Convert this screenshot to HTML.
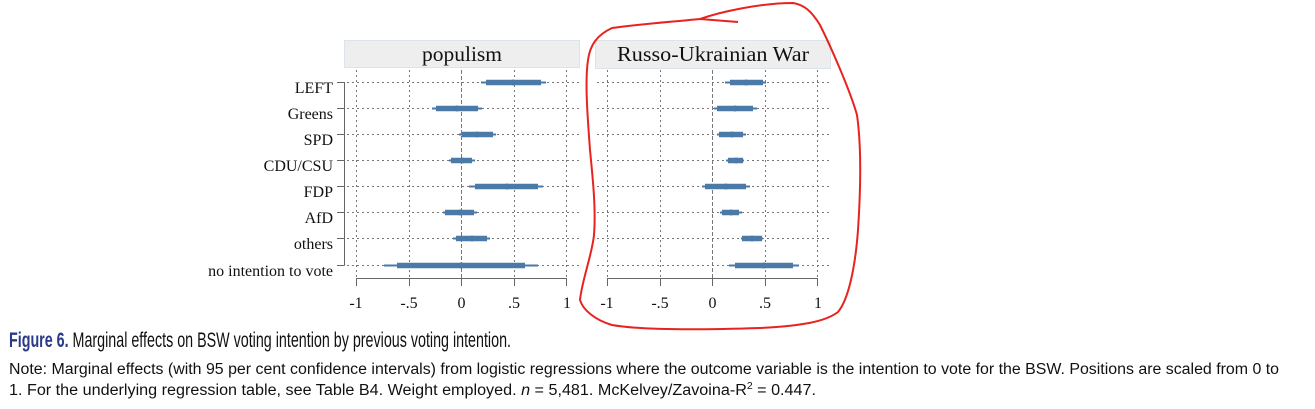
<!DOCTYPE html>
<html><head><meta charset="utf-8"><style>
html,body{margin:0;padding:0;background:#fff;width:1315px;height:409px;overflow:hidden}
svg{display:block}
.s{font-family:"Liberation Serif",serif;fill:#111}
.c{font-family:"Liberation Sans Narrow","Liberation Sans",sans-serif;fill:#111}
</style></head><body>
<svg width="1315" height="409" viewBox="0 0 1315 409" xmlns="http://www.w3.org/2000/svg">
<!-- headers -->
<rect x="344.5" y="40.5" width="235" height="27" fill="#eeeeee" stroke="#dde3ea"/>
<text class="s" x="462" y="61" font-size="21.5" text-anchor="middle">populism</text>
<rect x="595.5" y="40.5" width="235" height="28" fill="#eeeeee" stroke="#dde3ea"/>
<text class="s" x="713" y="61" font-size="21.5" text-anchor="middle" textLength="192" lengthAdjust="spacingAndGlyphs">Russo-Ukrainian War</text>

<!-- y labels -->
<g class="s" font-size="16" text-anchor="end">
<text x="333" y="93">LEFT</text>
<text x="333" y="119">Greens</text>
<text x="333" y="145">SPD</text>
<text x="333" y="171">CDU/CSU</text>
<text x="333" y="197">FDP</text>
<text x="333" y="223">AfD</text>
<text x="333" y="249">others</text>
<text x="333" y="276">no intention to vote</text>
</g>
<g stroke="#666" stroke-width="1" fill="none">
<path d="M344.5 82 V265.5"/>
<path d="M337 82.5H344.5M337 108.5H344.5M337 134.5H344.5M337 160.5H344.5M337 186.5H344.5M337 212.5H344.5M337 238.5H344.5M337 265.5H344.5"/>
</g>

<!-- grids -->
<g stroke="#777" stroke-width="1" stroke-dasharray="2,3" fill="none">
<path d="M356.5 70V278M409.5 70V278M514.5 70V278M566.5 70V278"/>
<path d="M607.5 70V278M660.5 70V278M765.5 70V278M817.5 70V278"/>
<path d="M347 82.5H580M347 108.5H580M347 134.5H580M347 160.5H580M347 186.5H580M347 212.5H580M347 238.5H580M347 265.5H580"/>
<path d="M597 82.5H831M597 108.5H831M597 134.5H831M597 160.5H831M597 186.5H831M597 212.5H831M597 238.5H831M597 265.5H831"/>
</g>
<g stroke="#777" stroke-width="1" stroke-dasharray="4,2" fill="none">
<path d="M461.5 70V278M712.5 70V278"/>
</g>
<!-- x axes -->
<g stroke="#666" stroke-width="1" fill="none">
<path d="M356 278.5H567M356.5 278V286M409.5 278V286M461.5 278V286M514.5 278V286M566.5 278V286"/>
<path d="M607 278.5H818M607.5 278V286M660.5 278V286M712.5 278V286M765.5 278V286M817.5 278V286"/>
</g>
<g class="s" font-size="16" text-anchor="middle">
<text x="356" y="308">-1</text><text x="409" y="308">-.5</text><text x="461.5" y="308">0</text><text x="514" y="308">.5</text><text x="567" y="308">1</text>
<text x="607" y="308">-1</text><text x="660" y="308">-.5</text><text x="712.5" y="308">0</text><text x="765" y="308">.5</text><text x="818" y="308">1</text>
</g>

<!-- data -->
<g stroke="#4a7aa5" fill="#4a7aa5">
<g stroke-width="2">
<path d="M481 82.5H546M432 108.5H482M459 134.5H496M449 160.5H475M469 186.5H543M443 212.5H477M453 238.5H490M384 265.5H538"/>
<path d="M725 82.5H766M714 108.5H757M717 134.5H746M726 160.5H744M702 186.5H750M720 212.5H742M741 238.5H763M729 265.5H799"/>
</g>
<g stroke-width="5.5">
<path d="M486 82.5H541M436 108.5H478M462 134.5H493M451 160.5H472M475 186.5H538M445 212.5H474M456 238.5H487M397 265.5H525"/>
<path d="M730 82.5H763M717 108.5H753M719 134.5H743M728 160.5H743M705 186.5H746M722 212.5H739M742 238.5H762M735 265.5H793"/>
</g>
<g stroke="none">
<circle cx="513" cy="82.5" r="3"/><circle cx="457" cy="108.5" r="3"/><circle cx="477" cy="134.5" r="3"/><circle cx="462" cy="160.5" r="3"/><circle cx="507" cy="186.5" r="3"/><circle cx="460" cy="212.5" r="3"/><circle cx="472" cy="238.5" r="3"/><circle cx="461" cy="265.5" r="3"/>
<circle cx="746" cy="82.5" r="3"/><circle cx="735" cy="108.5" r="3"/><circle cx="732" cy="134.5" r="3"/><circle cx="736" cy="160.5" r="3"/><circle cx="726" cy="186.5" r="3"/><circle cx="731" cy="212.5" r="3"/><circle cx="752" cy="238.5" r="3"/><circle cx="764" cy="265.5" r="3"/>
</g>
</g>

<!-- red annotation -->
<path d="M738 22 L700 19 C720 12 760 3 793 3 C805 5 812 12 820 25 C830 45 850 90 857 115 C862 150 860 200 858 230 C855 270 848 300 838 312 C825 322 800 326 760 328 C700 330 640 330 612 325 C595 320 583 310 580 300 C582 280 592 255 594 235 C596 210 593 180 590 150 C587 110 585 80 588 60 C590 45 597 35 612 28 C640 24 670 22 700 19" fill="none" stroke="#e8231f" stroke-width="2"/>

<!-- caption -->
<text class="c" x="9" y="347" font-size="21" textLength="502" lengthAdjust="spacingAndGlyphs"><tspan font-weight="bold" fill="#2b3a87">Figure 6.</tspan> Marginal effects on BSW voting intention by previous voting intention.</text>
<text class="c" x="9" y="374" font-size="15.5" textLength="1270" lengthAdjust="spacingAndGlyphs">Note: Marginal effects (with 95 per cent confidence intervals) from logistic regressions where the outcome variable is the intention to vote for the BSW. Positions are scaled from 0 to</text>
<text class="c" x="9" y="395" font-size="15.5" textLength="807" lengthAdjust="spacingAndGlyphs">1. For the underlying regression table, see Table B4. Weight employed. <tspan font-style="italic">n</tspan> = 5,481. McKelvey/Zavoina-R<tspan font-size="10" dy="-6">2</tspan><tspan dy="6"> = 0.447.</tspan></text>
</svg>
</body></html>
